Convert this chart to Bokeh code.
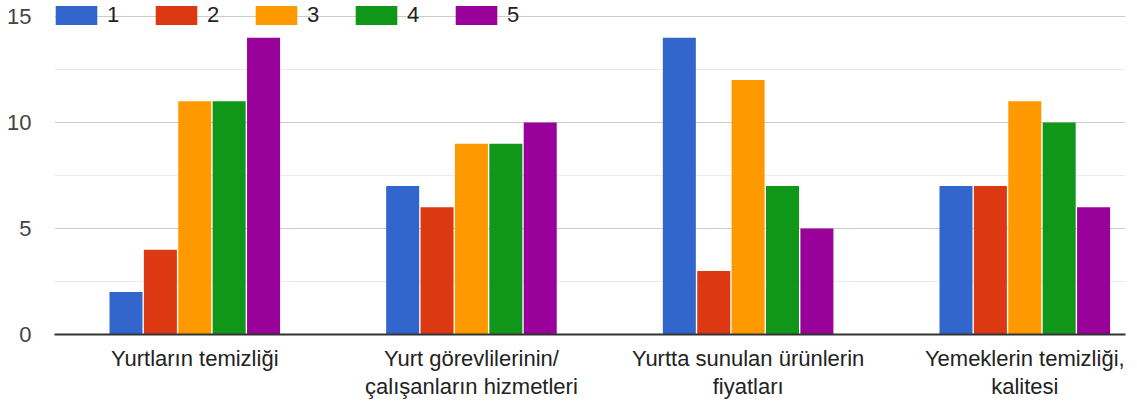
from bokeh.plotting import figure
from bokeh.models import Range1d, FixedTicker, Legend, LegendItem, ColumnDataSource
from bokeh.transform import dodge
from bokeh.embed import file_html
from bokeh.resources import INLINE

categories = [
    "Yurtların temizliği",
    "Yurt görevlilerinin/\nçalışanların hizmetleri",
    "Yurtta sunulan ürünlerin\nfiyatları",
    "Yemeklerin temizliği,\nkalitesi",
]
series_names = ["1", "2", "3", "4", "5"]
s1 = [2, 7, 14, 7]
s2 = [4, 6, 3, 7]
s3 = [11, 9, 12, 11]
s4 = [11, 9, 7, 10]
s5 = [14, 10, 5, 6]
colors = ["#3366cc", "#dc3912", "#ff9900", "#109618", "#990099"]
y_ticks = [0, 5, 10, 15]
y_minor = [2.5, 7.5, 12.5]

FONT = "Liberation Sans, Arial, sans-serif"

xs = list(range(len(categories)))
src = ColumnDataSource(dict(x=xs, s1=s1, s2=s2, s3=s3, s4=s4, s5=s5))

p = figure(
    frame_width=1071, frame_height=334,
    min_border_left=54, min_border_right=2, min_border_top=0, min_border_bottom=58,
    x_range=Range1d(-0.507, 3.364), y_range=Range1d(0, 15.755),
    output_backend="svg", toolbar_location=None,
)
p.outline_line_color = None
p.background_fill_color = "white"
p.border_fill_color = "white"

step = 0.1243
bw = 0.1193
renderers = []
for i, col in enumerate(["s1", "s2", "s3", "s4", "s5"]):
    r = p.vbar(x=dodge("x", (i - 2) * step, range=p.x_range), top=col, bottom=0,
               width=bw, source=src, fill_color=colors[i], line_color=None)
    renderers.append(r)

# grids
p.xgrid.grid_line_color = None
p.ygrid.ticker = FixedTicker(ticks=y_ticks, minor_ticks=y_minor)
p.ygrid.grid_line_color = "#cccccc"
p.ygrid.grid_line_width = 1
p.ygrid.minor_grid_line_color = "#ebebeb"
p.ygrid.minor_grid_line_width = 1

# y axis
p.yaxis.ticker = FixedTicker(ticks=y_ticks)
p.yaxis.axis_line_color = None
p.yaxis.major_tick_line_color = None
p.yaxis.minor_tick_line_color = None
p.yaxis.major_tick_out = 0
p.yaxis.major_tick_in = 0
p.yaxis.minor_tick_out = 0
p.yaxis.major_label_standoff = 23
p.yaxis.major_label_text_font = FONT
p.yaxis.major_label_text_font_size = "22px"
p.yaxis.major_label_text_color = "#444444"

# x axis
p.xaxis.ticker = FixedTicker(ticks=xs)
p.xaxis.major_label_overrides = {i: c for i, c in zip(xs, categories)}
p.xaxis.axis_line_color = "#333333"
p.xaxis.axis_line_width = 2
p.xaxis.major_tick_line_color = None
p.xaxis.minor_tick_line_color = None
p.xaxis.major_label_standoff = 5
p.xaxis.major_label_text_font = FONT
p.xaxis.major_label_text_font_size = "22px"
p.xaxis.major_label_text_color = "#222222"
p.xaxis.major_label_text_line_height = 1.15

legend = Legend(
    items=[LegendItem(label=n, renderers=[r]) for n, r in zip(series_names, renderers)],
    location=(-4, 306), orientation="horizontal",
    glyph_width=52, glyph_height=24, label_standoff=5, label_width=43,
    spacing=0, padding=0, margin=0,
    background_fill_alpha=0, border_line_color=None,
    label_text_font=FONT, label_text_font_size="22px", label_text_color="#222222",
)
p.add_layout(legend)

open("out.html", "w").write(file_html(p, INLINE))
